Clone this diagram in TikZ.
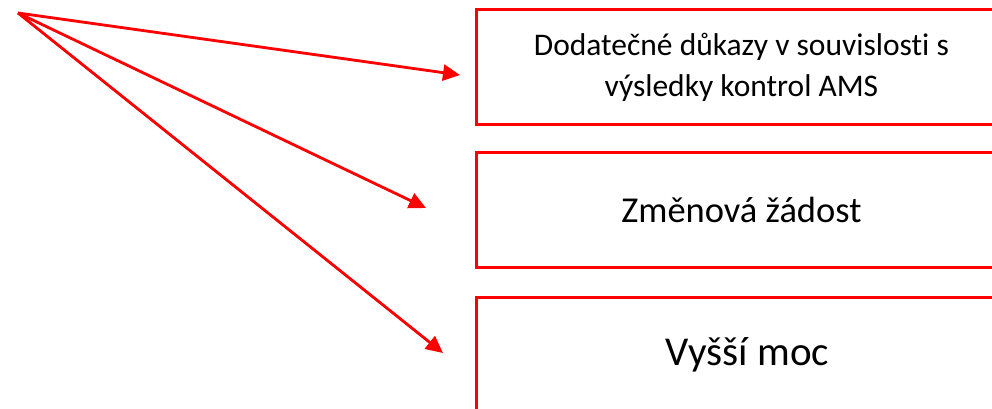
\documentclass[tikz,border=0pt]{standalone}
\usepackage{fontspec}
\setmainfont[Ligatures=NoCommon]{Carlito}
\usetikzlibrary{arrows.meta}
\definecolor{boxred}{RGB}{255,0,0}
\tikzset{
  redbox/.style={draw=boxred, line width=2.8pt, minimum width=530pt, minimum height=115pt, anchor=north west, inner sep=0pt, align=center, text=black},
  redarrow/.style={draw=boxred, line width=2.8pt, -{Triangle[length=17pt,width=16pt]}}
}
\begin{document}
\begin{tikzpicture}[x=1pt,y=-1pt]
\useasboundingbox (0,0) rectangle (992,408);
\node[redbox, font=\fontsize{31.5}{41}\selectfont] (b1) at (475,8) {Dodatečné důkazy v souvislosti s\\výsledky kontrol AMS};
\node[redbox, font=\fontsize{36.5}{40}\selectfont] (b2) at (475,151) {Změnová žádost};
\node[redbox, font=\fontsize{41}{44}\selectfont] (b3) at (475,296) {\hspace{12pt}Vyšší moc};
\coordinate (src) at (18,13);
\coordinate (t1) at (460,75);
\coordinate (t2) at (426,208);
\coordinate (t3) at (443,353);
\draw[redarrow] (src) -- (t1);
\draw[redarrow] (src) -- (t2);
\draw[redarrow] (src) -- (t3);
\end{tikzpicture}
\end{document}
